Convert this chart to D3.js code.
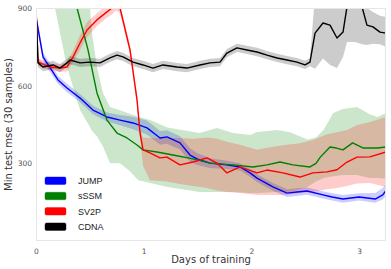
<!DOCTYPE html>
<html>
<head>
<meta charset="utf-8">
<script src="https://cdn.jsdelivr.net/npm/d3@7"></script>
<style>
    body { margin: 0; background: #fff; }
    text { font-family: "DejaVu Sans", sans-serif; }
</style>
</head>
<body>
<div id="wrapper"></div>
<script>
// ticks
const xTicks = [0, 1, 2, 3];
const yTicks = [300, 600, 900];

// JUMP
const jumpDays = [0, 0.01, 0.065, 0.204, 0.288, 0.409, 0.529, 0.659, 0.78, 0.901, 1.031, 1.152, 1.216, 1.337, 1.43, 1.495, 1.616, 1.773, 1.894, 1.987, 2.052, 2.2, 2.331, 2.423, 2.516, 2.665, 2.75, 2.85, 3.0, 3.15, 3.22, 3.25];
const jumpMean = [860, 842, 711, 622, 591, 552, 506, 479, 467, 456, 437, 398, 402, 379, 332, 317, 301, 294, 286, 263, 243, 209, 185, 189, 193, 178, 170, 162, 170, 162, 178, 195];
const jumpHi = [880, 860, 728, 638, 607, 568, 522, 496, 487, 480, 465, 425, 428, 405, 358, 340, 320, 310, 300, 278, 258, 224, 200, 204, 207, 192, 184, 178, 184, 185, 205, 220];
const jumpLo = [840, 824, 694, 606, 575, 536, 490, 462, 447, 432, 410, 372, 376, 353, 306, 294, 282, 278, 272, 248, 228, 194, 170, 174, 179, 164, 156, 148, 156, 148, 160, 175];

// sSSM
const sssmDays = [0.30, 0.381, 0.483, 0.566, 0.659, 0.752, 0.845, 0.938, 0.994, 1.123, 1.272, 1.458, 1.616, 1.829, 2.015, 2.145, 2.266, 2.386, 2.544, 2.6, 2.64, 2.73, 2.79, 2.85, 2.94, 3.04, 3.17, 3.25];
const sssmMean = [1030, 900, 738, 572, 467, 417, 398, 371, 352, 344, 332, 317, 301, 294, 286, 294, 305, 294, 286, 300, 324, 363, 359, 352, 379, 359, 359, 363];
const sssmBandDays = [0.1, 0.176, 0.288, 0.409, 0.501, 0.52, 0.566, 0.622, 0.687, 0.78, 0.87, 0.95, 1.06, 1.22, 1.52, 1.68, 1.83, 1.99, 2.05, 2.24, 2.36, 2.52, 2.6, 2.67, 2.76, 2.85, 2.98, 3.1, 3.17, 3.25];
const sssmLo = [1100, 900, 672, 506, 440, 425, 405, 365, 300, 300, 270, 235, 224, 209, 189, 189, 189, 185, 185, 189, 189, 209, 230, 243, 250, 255, 255, 243, 243, 240];
const sssmHi = [1300, 1200, 1100, 1000, 900, 803, 672, 572, 518, 505, 492, 480, 467, 438, 417, 436, 417, 409, 421, 429, 420, 392, 400, 429, 494, 510, 518, 490, 479, 494];

// SV2P
const sv2pDays = [0, 0.019, 0.037, 0.13, 0.223, 0.288, 0.344, 0.409, 0.474, 0.566, 0.659, 0.706, 0.74, 0.78, 0.873, 0.938, 0.966, 0.994, 1.058, 1.151, 1.216, 1.337, 1.458, 1.588, 1.681, 1.773, 1.894, 2.052, 2.145, 2.293, 2.451, 2.572, 2.702, 2.795, 2.888, 2.981, 3.101, 3.25];
const sv2pMean = [900, 691, 688, 672, 668, 672, 711, 765, 815, 854, 885, 900, 915, 900, 738, 545, 417, 352, 340, 321, 324, 294, 305, 321, 301, 263, 286, 263, 274, 263, 247, 263, 267, 275, 305, 324, 325, 344];
const sv2pHi = [905, 705, 702, 686, 682, 690, 735, 795, 845, 880, 910, 930, 940, 920, 755, 562, 432, 400, 398, 398, 398, 398, 395, 400, 395, 383, 372, 352, 360, 370, 378, 390, 412, 420, 429, 448, 460, 479];
const sv2pLo = [895, 677, 674, 658, 654, 655, 690, 738, 788, 830, 862, 875, 890, 880, 720, 528, 400, 290, 235, 232, 230, 220, 212, 205, 195, 189, 185, 178, 178, 178, 185, 190, 200, 205, 212, 222, 224, 209];

// CDNA
const cdnaDays = [0, 0.019, 0.065, 0.158, 0.223, 0.288, 0.316, 0.409, 0.501, 0.594, 0.687, 0.752, 0.808, 0.901, 0.994, 1.086, 1.179, 1.309, 1.402, 1.523, 1.616, 1.708, 1.773, 1.866, 1.959, 2.052, 2.145, 2.238, 2.331, 2.423, 2.498, 2.544, 2.591, 2.665, 2.73, 2.795, 2.851, 2.888, 2.96, 3.027, 3.073, 3.129, 3.194, 3.25];
const cdnaMean = [900, 688, 672, 680, 668, 688, 699, 688, 691, 688, 707, 718, 711, 691, 680, 668, 680, 672, 668, 680, 688, 691, 726, 746, 738, 730, 718, 707, 699, 691, 680, 691, 803, 842, 834, 784, 807, 905, 960, 905, 834, 827, 807, 803];
const cdnaHi = [905, 705, 688, 696, 684, 704, 715, 704, 707, 704, 723, 734, 727, 707, 696, 684, 696, 688, 684, 696, 704, 707, 742, 762, 754, 746, 734, 723, 715, 707, 696, 707, 950, 950, 950, 950, 950, 950, 990, 950, 900, 885, 870, 865];
const cdnaLo = [895, 672, 656, 664, 652, 672, 683, 672, 675, 672, 691, 702, 695, 675, 664, 652, 664, 656, 652, 664, 672, 675, 710, 730, 722, 714, 702, 691, 683, 675, 664, 675, 665, 705, 680, 668, 711, 769, 769, 760, 757, 762, 760, 749];

const seriesNames = ["JUMP", "sSSM", "SV2P", "CDNA"];
const seriesColors = ["#0000ff", "#008000", "#ff0000", "#000000"];

let dimension = {
    width: 391,
    height: 269,
    margin: {
        top: 8,
        left: 36,
        bottom: 28,
        right: 5
    }
}
dimension.boundedWidth = dimension.width - dimension.margin.left - dimension.margin.right;
dimension.boundedHeight = dimension.height - dimension.margin.top - dimension.margin.bottom;

function zip(days, vals) {
    return days.map((d, i) => ({ x: d, y: vals[i] }));
}
function zipBand(days, lo, hi) {
    return days.map((d, i) => ({ x: d, lo: lo[i], hi: hi[i] }));
}

function buildPlot() {
    const svg = d3.select("#wrapper").append("svg")
        .attr("width", dimension.width)
        .attr("height", dimension.height);

    const xScale = d3.scaleLinear()
        .domain([0, 3.25])
        .range([dimension.margin.left, dimension.margin.left + dimension.boundedWidth]);
    const yScale = d3.scaleLinear()
        .domain([0, 900])
        .range([dimension.margin.top + dimension.boundedHeight, dimension.margin.top]);

    svg.append("clipPath")
        .attr("id", "plotClip")
        .append("rect")
        .attr("x", dimension.margin.left)
        .attr("y", dimension.margin.top)
        .attr("width", dimension.boundedWidth)
        .attr("height", dimension.boundedHeight);

    const bounds = svg.append("g").attr("clip-path", "url(#plotClip)");

    const area = d3.area()
        .x(d => xScale(d.x))
        .y0(d => yScale(d.lo))
        .y1(d => yScale(d.hi));
    const line = d3.line()
        .x(d => xScale(d.x))
        .y(d => yScale(d.y));

    const bands = [
        zipBand(jumpDays, jumpLo, jumpHi),
        zipBand(sssmBandDays, sssmLo, sssmHi),
        zipBand(sv2pDays, sv2pLo, sv2pHi),
        zipBand(cdnaDays, cdnaLo, cdnaHi)
    ];
    const lines = [
        zip(jumpDays, jumpMean),
        zip(sssmDays, sssmMean),
        zip(sv2pDays, sv2pMean),
        zip(cdnaDays, cdnaMean)
    ];

    bands.forEach((b, i) => {
        bounds.append("path")
            .datum(b)
            .attr("d", area)
            .attr("fill", seriesColors[i])
            .attr("fill-opacity", 0.2)
            .attr("stroke", "none");
    });
    lines.forEach((l, i) => {
        bounds.append("path")
            .datum(l)
            .attr("d", line)
            .attr("fill", "none")
            .attr("stroke", seriesColors[i])
            .attr("stroke-width", 1.4)
            .attr("stroke-linejoin", "round");
    });

    // frame
    svg.append("rect")
        .attr("x", dimension.margin.left + 0.5)
        .attr("y", dimension.margin.top + 0.5)
        .attr("width", dimension.boundedWidth - 1)
        .attr("height", dimension.boundedHeight - 1)
        .attr("fill", "none")
        .attr("stroke", "#e6e6e6")
        .attr("stroke-width", 1);

    // axes
    const xAxis = svg.append("g")
        .attr("transform", `translate(0,${dimension.margin.top + dimension.boundedHeight})`)
        .call(d3.axisBottom(xScale).tickValues(xTicks).tickSize(0).tickPadding(8).tickFormat(d3.format("d")));
    const yAxis = svg.append("g")
        .attr("transform", `translate(${dimension.margin.left},0)`)
        .call(d3.axisLeft(yScale).tickValues(yTicks).tickSize(0).tickPadding(4).tickFormat(d3.format("d")));
    [xAxis, yAxis].forEach(a => {
        a.select(".domain").remove();
        a.selectAll("text")
            .attr("fill", "#555")
            .style("font-family", "DejaVu Sans")
            .style("font-size", "7.5px");
    });

    svg.append("text")
        .attr("x", dimension.margin.left + dimension.boundedWidth / 2)
        .attr("y", 263)
        .attr("text-anchor", "middle")
        .attr("fill", "#333")
        .style("font-size", "10px")
        .text("Days of training");

    svg.append("text")
        .attr("transform", `translate(12,${dimension.margin.top + dimension.boundedHeight / 2}) rotate(-90)`)
        .attr("text-anchor", "middle")
        .attr("fill", "#333")
        .style("font-size", "10px")
        .text("Min test mse (30 samples)");

    // legend
    const legend = svg.append("g")
        .attr("transform", "translate(45,177)");
    seriesNames.forEach((name, i) => {
        const row = legend.append("g").attr("transform", `translate(0,${i * 15.3})`);
        row.append("rect")
            .attr("width", 21)
            .attr("height", 7.5)
            .attr("rx", 1.5)
            .attr("fill", seriesColors[i])
            .attr("stroke", seriesColors[i])
            .attr("stroke-opacity", 0.4)
            .attr("stroke-width", 1);
        row.append("text")
            .attr("x", 33)
            .attr("y", 7)
            .attr("fill", "#222")
            .style("font-family", "Liberation Sans")
            .style("font-size", "9px")
            .text(name);
    });
}

buildPlot()
</script>
</body>
</html>
